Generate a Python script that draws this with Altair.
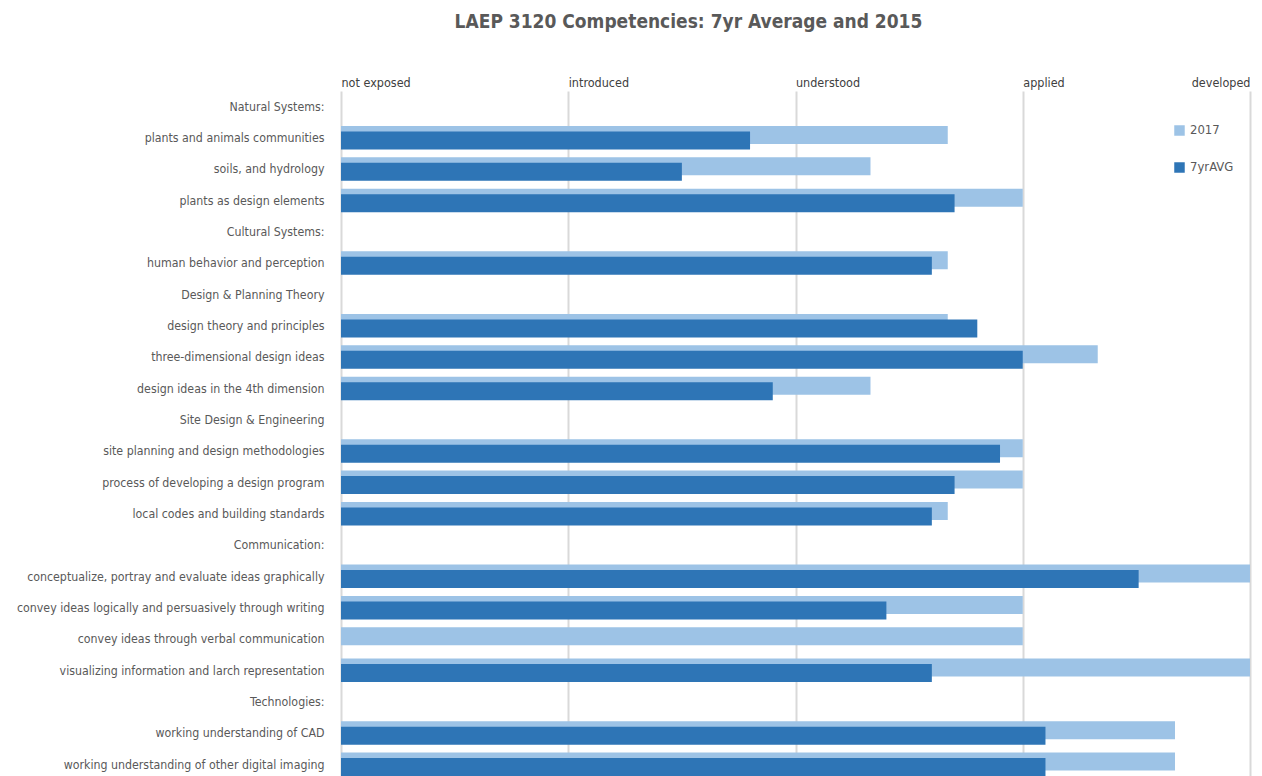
import json
import altair as alt
import pandas as pd

# ---- data ----
categories = [
    "Natural Systems:",
    "plants and animals communities",
    "soils, and hydrology",
    "plants as design elements",
    "Cultural Systems:",
    "human behavior and perception",
    "Design & Planning Theory",
    "design theory and principles",
    "three-dimensional design ideas",
    "design ideas in the 4th dimension",
    "Site Design & Engineering",
    "site planning and design methodologies",
    "process of developing a design program",
    "local codes and building standards",
    "Communication:",
    "conceptualize, portray and evaluate ideas graphically",
    "convey ideas logically and persuasively through writing",
    "convey ideas through verbal communication",
    "visualizing information and larch representation",
    "Technologies:",
    "working understanding of CAD",
    "working understanding of other digital imaging",
]
values_2017 = [None, 2.67, 2.33, 3.0, None, 2.67, None, 2.67, 3.33, 2.33, None,
               3.0, 3.0, 2.67, None, 4.0, 3.0, 3.0, 4.0, None, 3.67, 3.67]
values_7yr = [None, 1.80, 1.50, 2.70, None, 2.60, None, 2.80, 3.00, 1.90, None,
              2.90, 2.70, 2.60, None, 3.51, 2.40, None, 2.60, None, 3.10, 3.10]
series_names = ["2017", "7yrAVG"]
level_labels = ["not exposed", "introduced", "understood", "applied", "developed"]

rows = []
for c, a, b in zip(categories, values_2017, values_7yr):
    if a is not None:
        rows.append({"item": c, "series": series_names[0], "value": a})
    if b is not None:
        rows.append({"item": c, "series": series_names[1], "value": b})
df = pd.DataFrame(rows)

FONT = "DejaVu Sans Condensed, sans-serif"
LIGHT = "#9DC3E6"
DARK = "#2E75B6"
STEP = 31.33
PLOT_H = STEP * len(categories)

x_enc = alt.X(
    "value:Q",
    scale=alt.Scale(domain=[0, 4], nice=False, zero=True),
    axis=alt.Axis(
        orient="top", values=[0, 1, 2, 3, 4],
        labelExpr=json.dumps(level_labels) + "[datum.value]",
        grid=True, gridColor="#D9D9D9", gridWidth=2,
        domain=False, ticks=False, labelPadding=1,
        labelFontSize=12.5, labelColor="#404040", labelFont=FONT,
        labelAlign={"condition": {"test": "datum.value == 4", "value": "right"}, "value": "left"},
        title=None,
    ),
)
y_enc = alt.Y(
    "item:N", sort=categories,
    scale=alt.Scale(domain=categories, range=[0, PLOT_H], paddingInner=0, paddingOuter=0),
    axis=alt.Axis(title=None, domain=False, ticks=False, labelPadding=17,
                  labelFontSize=12.3, labelColor="#595959", labelFont=FONT, labelLimit=500),
)
color_enc = alt.Color(
    "series:N",
    scale=alt.Scale(domain=series_names, range=[LIGHT, DARK]),
    legend=alt.Legend(title=None, orient="none", legendX=832, legendY=33, padding=0,
                      symbolType="square", symbolSize=110, symbolStrokeWidth=0,
                      labelFontSize=13, labelColor="#595959", labelFont=FONT,
                      rowPadding=23, labelOffset=4),
)

base = alt.Chart(df).encode(x=x_enc, y=y_enc, color=color_enc)
light = base.transform_filter("datum.series == '2017'").mark_bar(size=18, yOffset=-3)
dark = base.transform_filter("datum.series == '7yrAVG'").mark_bar(size=18, yOffset=2.5)

chart = alt.layer(light, dark).properties(
    width=909,
    height=PLOT_H,
    title=alt.TitleParams(
        "LAEP 3120 Competencies: 7yr Average and 2015",
        font=FONT, fontSize=19, fontWeight="bold", color="#595959",
        anchor="middle", frame="group", dx=-107, offset=45,
    ),
    autosize=alt.AutoSizeParams(type="none"),
    padding={"left": 333, "top": 83, "right": 4, "bottom": 0},
).configure_view(stroke=None)

chart.save("out.html", embed_options={"renderer": "svg", "actions": False})
